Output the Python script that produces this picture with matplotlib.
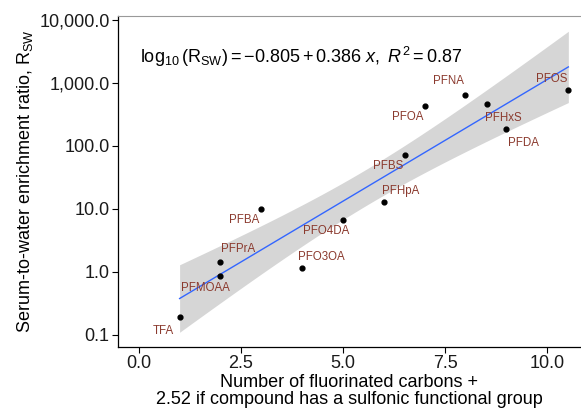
import numpy as np
import matplotlib
matplotlib.use("Agg")
import matplotlib.pyplot as plt
from matplotlib.ticker import FuncFormatter, FixedLocator, NullLocator

plt.rcParams['font.family'] = ['Liberation Sans', 'DejaVu Sans']
plt.rcParams['mathtext.fontset'] = 'custom'
plt.rcParams['mathtext.rm'] = 'Liberation Sans'
plt.rcParams['mathtext.it'] = 'Liberation Sans:italic'

# datos
compuestos = ['TFA', 'PFMOAA', 'PFPrA', 'PFBA', 'PFO3OA', 'PFO4DA', 'PFHpA',
              'PFBS', 'PFOA', 'PFNA', 'PFHxS', 'PFDA', 'PFOS']
carbonos = [1, 2, 2, 3, 4, 5, 6, 6.52, 7, 8, 8.52, 9, 10.52]
ratio_sw = [0.19, 0.87, 1.45, 10.0, 1.16, 6.6, 13.0, 72, 430, 650, 465, 186, 770]

# desplazamiento de etiquetas (puntos)
desp = {'TFA': (-12, -10), 'PFMOAA': (-11, -9), 'PFPrA': (13, 9), 'PFBA': (-12, -8),
        'PFO3OA': (14, 8), 'PFO4DA': (-12, -8), 'PFHpA': (12, 8), 'PFBS': (-12, -8),
        'PFOA': (-12, -8), 'PFNA': (-12, 10), 'PFHxS': (12, -10), 'PFDA': (12, -10),
        'PFOS': (-12, 8)}

x = np.array(carbonos)
y = np.log10(ratio_sw)

# regresion lineal con banda de confianza del 95%
n = len(x)
b1, b0 = np.polyfit(x, y, 1)
res = y - (b0 + b1 * x)
s = np.sqrt(np.sum(res ** 2) / (n - 2))
t = 2.201
xs = np.linspace(x.min(), x.max(), 100)
ys = b0 + b1 * xs
se = s * np.sqrt(1 / n + (xs - x.mean()) ** 2 / np.sum((x - x.mean()) ** 2))

fig = plt.figure(figsize=(5.81, 4.12), dpi=100)
ax = fig.add_axes([0.203, 0.158, 0.797, 0.803])

ax.fill_between(xs, 10 ** (ys - t * se), 10 ** (ys + t * se), color='#999999', alpha=0.4, lw=0)
ax.plot(xs, 10 ** ys, color='#3366FF', lw=1)
ax.scatter(x, ratio_sw, s=12, color='black', zorder=3)

for c, xi, yi in zip(compuestos, carbonos, ratio_sw):
    dx, dy = desp[c]
    ax.annotate(c, (xi, yi), xytext=(dx, dy), textcoords='offset points',
                ha='center', va='center', fontsize=8.3, color='#8B3A2E')

ax.set_yscale('log')
ax.set_ylim(10 ** -1.19, 10 ** 4.06)
ax.set_xlim(-0.51, 10.83)
ax.yaxis.set_major_locator(FixedLocator([0.1, 1, 10, 100, 1000, 10000]))
ax.yaxis.set_minor_locator(NullLocator())
ax.yaxis.set_major_formatter(FuncFormatter(lambda v, p: f"{v:,.1f}"))
ax.set_xticks([0, 2.5, 5, 7.5, 10])
ax.xaxis.set_major_formatter(FuncFormatter(lambda v, p: f"{v:.1f}"))

ax.tick_params(labelsize=13, length=4, width=0.8, colors='black', labelcolor='#1a1a1a', pad=2)
ax.spines['right'].set_visible(False)
ax.spines['top'].set_color('#999999')
for sp in ['left', 'bottom']:
    ax.spines[sp].set_linewidth(0.9)

ax.text(0.047, 0.875, r'$\mathrm{log}_{10}\,(\mathrm{R_{SW}}) = -0.805 + 0.386\ x,\ R^2 = 0.87$',
        transform=ax.transAxes, fontsize=13, va='center', ha='left')

ax.set_ylabel('Serum-to-water enrichment ratio, R$_{\\mathrm{SW}}$', fontsize=13, labelpad=3)
ax.set_xlabel('Number of fluorinated carbons +\n2.52 if compound has a sulfonic functional group',
              fontsize=13, labelpad=1, linespacing=1.0)

fig.savefig('out.png', dpi=100)
